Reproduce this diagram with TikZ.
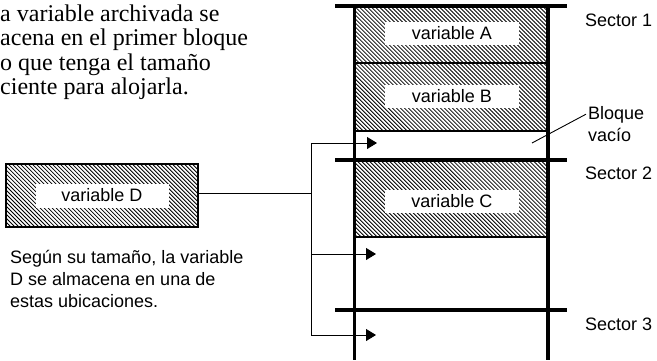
\documentclass[tikz,border=0pt]{standalone}
\usepackage{fontspec}
\setmainfont{Liberation Serif}
\newfontfamily\labelfont{Liberation Sans}
\usetikzlibrary{patterns.meta,arrows.meta}
\tikzset{
  hatch/.style={pattern={Lines[angle=-45,distance=2.83pt,line width=0.85pt]}},
  thickline/.style={line width=3.6pt},
  thinline/.style={line width=1.2pt},
  whitelabel/.style={fill=white,inner sep=0pt,minimum width=134pt,minimum height=23pt,
     font=\labelfont\fontsize{18}{21}\selectfont},
  sidelabel/.style={anchor=west,inner sep=0pt,align=left,font=\labelfont\fontsize{18}{22}\selectfont},
  conn/.style={line width=0.9pt},
  arr/.style={conn,-{Triangle[length=10pt,width=12pt]}},
}
\begin{document}
\begin{tikzpicture}[x=1pt,y=-1pt]
\useasboundingbox (0,0) rectangle (657,360);
% top explanatory text
\node[anchor=west,inner sep=0pt,align=left,font=\fontsize{24}{24.5}\selectfont] (intro) at (0,52)
  {a variable archivada se\\acena en el primer bloque\\o que tenga el tama\~no\\ciente para alojarla.};
% hatched blocks
\path[hatch] (356,7) rectangle (546,63);
\path[hatch] (356,63) rectangle (546,131);
\path[hatch] (356,160) rectangle (546,237);
\node[whitelabel] (va) at (452,33) {variable A};
\node[whitelabel] (vb) at (452,96) {variable B};
\node[whitelabel] (vc) at (452,201) {variable C};
% variable D box
\node[draw,line width=2pt,hatch,minimum width=192pt,minimum height=63pt,inner sep=0pt] (dbox) at (102,195.5) {};
\node[whitelabel,minimum width=133pt,minimum height=24pt] (vd) at (dbox.center) {variable D};
% block dividers
\draw[thinline] (356,63) -- (546,63);
\draw[thinline] (356,131) -- (546,131);
\draw[thinline] (356,237) -- (546,237);
% sector lines
\draw[thickline] (335,6) -- (567,6);
\draw[thickline] (335,160) -- (567,160);
\draw[thickline] (335,310) -- (567,310);
% verticals
\draw[thickline] (354.5,4.2) -- (354.5,360);
\draw[thickline] (548,4.2) -- (548,360);
% connectors
\coordinate (j) at (311,193);
\coordinate (t1) at (311,143);
\coordinate (t2) at (311,254);
\coordinate (t3) at (311,335);
\coordinate (a1) at (377,143);
\coordinate (a2) at (376,254);
\coordinate (a3) at (376,335);
\draw[conn] (j -| dbox.east) -- (j);
\draw[conn] (t1) -- (t3);
\draw[arr] (t1) -- (a1);
\draw[arr] (t2) -- (a2);
\draw[arr] (t3) -- (a3);
% labels
\node[sidelabel] (s1) at (585,20) {Sector 1};
\node[sidelabel] (s2) at (585,173) {Sector 2};
\node[sidelabel] (s3) at (585,324) {Sector 3};
\node[sidelabel] (bv) at (588,124) {Bloque\\vac\'io};
\coordinate (lp) at (532,143);
\draw[conn] (lp) -- ([shift={(-2,8)}]bv.north west);
\node[sidelabel] (desc) at (10,279) {Seg\'un su tama\~no, la variable\\D se almacena en una de\\estas ubicaciones.};
\end{tikzpicture}
\end{document}
